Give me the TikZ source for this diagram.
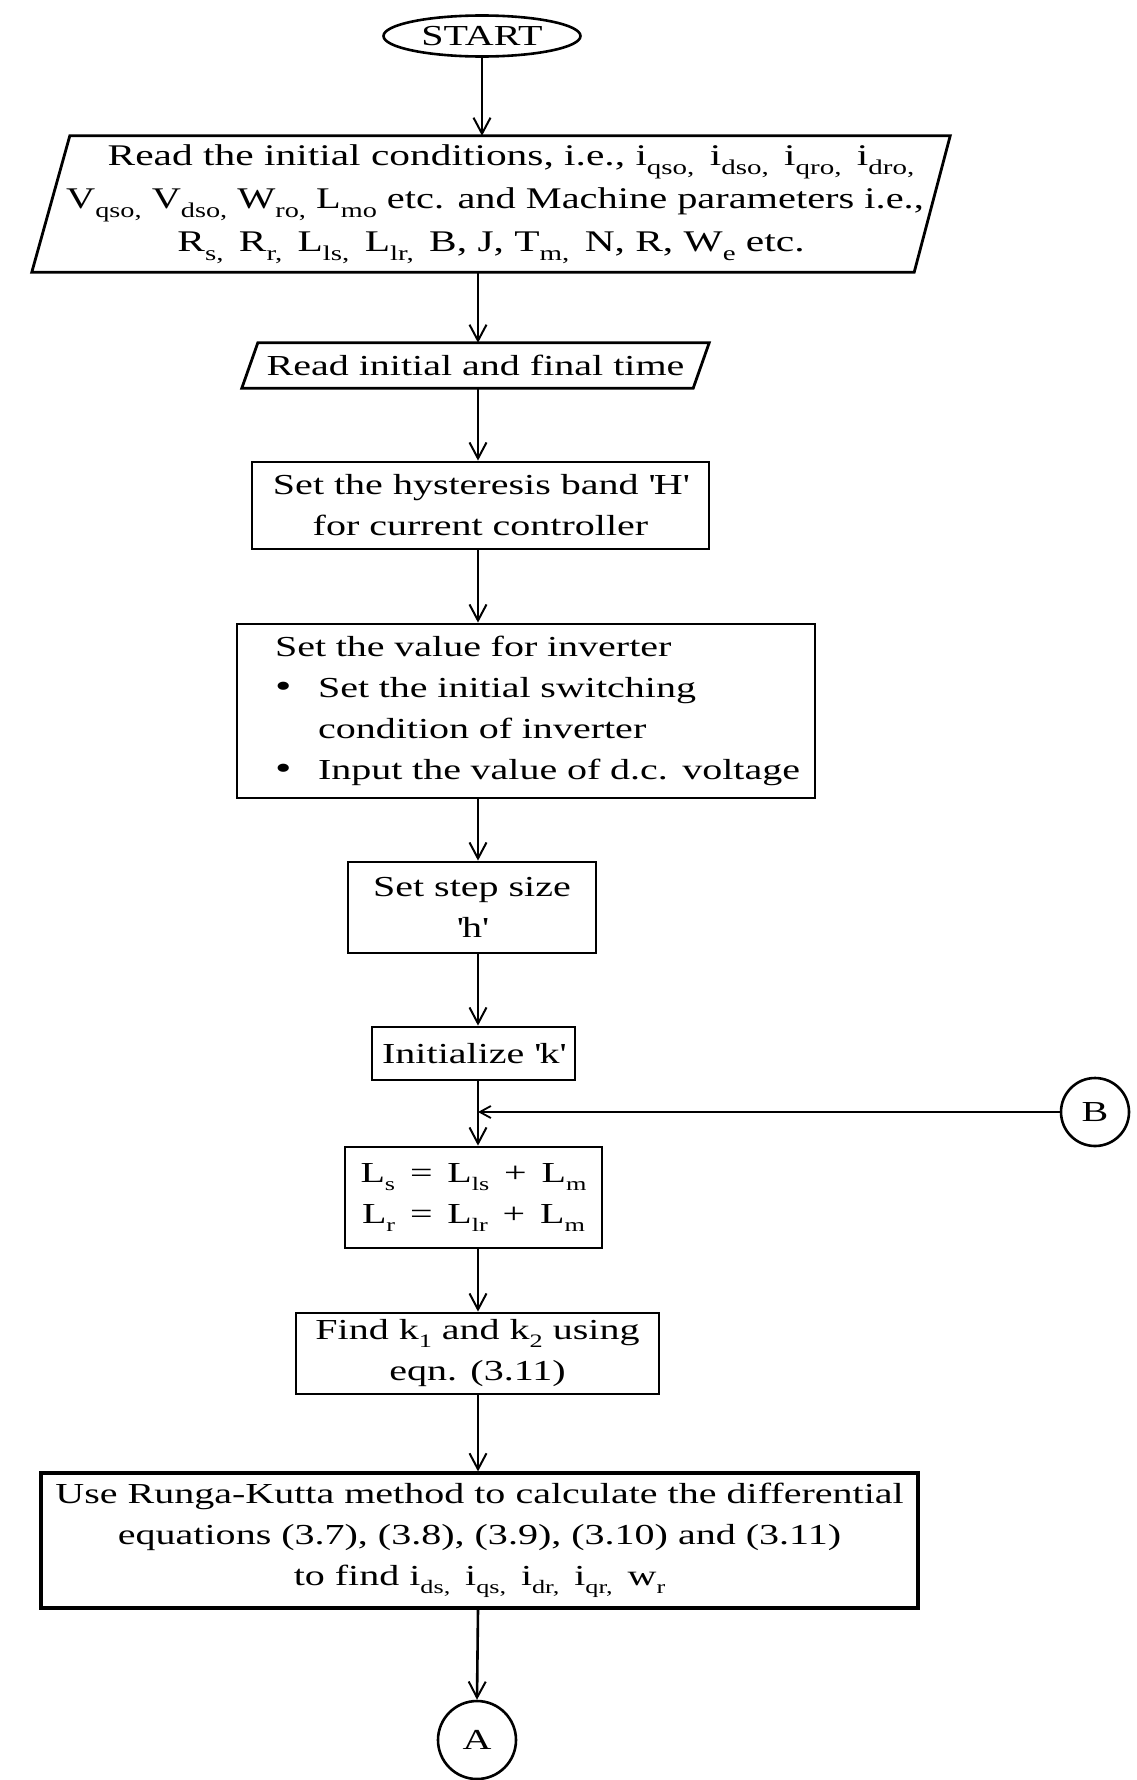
\documentclass[tikz,border=0pt]{standalone}
\usepackage{fontspec}
\usepackage{graphicx}
\setmainfont{Liberation Serif}[FakeStretch=1.38]
\usetikzlibrary{arrows.meta,shapes.geometric}
\newcommand\lo[1]{\raisebox{-8pt}{\fontsize{19}{19}\selectfont #1}}
\newcommand\loo[1]{\raisebox{-9pt}{\fontsize{21}{21}\selectfont #1}}
\newcommand\bul{\makebox[43pt][l]{\fontsize{34}{34}\selectfont\textbullet}}
\newcommand\q{\textquotesingle}
\begin{document}
\begin{tikzpicture}[x=1pt,y=-1pt,
  every node/.style={font=\fontsize{29}{41}\selectfont},
  box/.style={draw, line width=2.8pt, inner sep=0pt, align=center},
  arr/.style={line width=2.6pt, -{Straight Barb[length=16pt,width=17pt,line width=2pt]}},
  arrB/.style={line width=2.6pt, -{Straight Barb[length=11pt,width=12pt,line width=1.8pt]}},
  para/.style={line width=2.8pt, line join=miter}]
\useasboundingbox (0,0) rectangle (1136,1780);
\fill[white] (0,0) rectangle (1136,1780);

\node (start) [ellipse, draw, line width=2.6pt, minimum width=197pt, minimum height=41pt, inner sep=0pt] at (482,36) {START};

\node (p1) [inner sep=0pt, minimum width=918pt, minimum height=136pt, align=center,
  font=\fontsize{30}{43}\selectfont] at (491,204)
  {\hspace*{40pt}Read the initial conditions, i.e., i\loo{qso,}\, i\loo{dso,}\, i\loo{qro,}\, i\loo{dro,}\\
   \hspace*{8pt}\scalebox{0.975}[1]{V\loo{qso,} V\loo{dso,} W\loo{ro,} L\loo{mo} etc. and Machine parameters i.e.,}\\
   R\loo{s,}\, R\loo{r,}\, L\loo{ls,}\, L\loo{lr,}\, B, J, T\loo{m,}\, N, R, W\loo{e} etc.};
\draw[para] ([xshift=38pt]p1.north west) -- (p1.north east) -- ([xshift=-36pt]p1.south east) -- (p1.south west) -- cycle;

\node (p2) [inner sep=0pt, minimum width=467pt, minimum height=45pt] at (475.5,365.5) {Read initial and final time};
\draw[para] ([xshift=16pt]p2.north west) -- (p2.north east) -- ([xshift=-16pt]p2.south east) -- (p2.south west) -- cycle;

\node (hyst) [box, minimum width=457pt, minimum height=87pt] at (480.5,505.5)
  {Set the hysteresis band \q H\q\\for current controller};

\node (inv) [box, minimum width=578pt, minimum height=174pt, text width=502pt, inner xsep=38pt, align=left] at (526,711)
  {\mbox{Set the value for inverter}\\
   \mbox{\bul Set the initial switching}\\
   \mbox{\hspace*{43pt}condition of inverter}\\
   \mbox{\bul Input the value of d.c. voltage}};

\node (step) [box, minimum width=248pt, minimum height=91pt] at (472,907.5) {Set step size\\\q h\q};

\node (init) [box, minimum width=203pt, minimum height=53pt] at (473.5,1053.5) {Initialize \q k\q};

\node (B) [circle, draw, line width=2.6pt, minimum size=68pt, inner sep=0pt] at (1095,1112) {B};

\node (L) [box, minimum width=257pt, minimum height=101pt] at (473.5,1197.5)
  {L\lo{s} \,=\, L\lo{ls} \,+\, L\lo{m}\\ L\lo{r} \,=\, L\lo{lr} \,+\, L\lo{m}};

\node (find) [box, minimum width=363pt, minimum height=81pt] at (477.5,1353.5)
  {Find k\lo{1} and k\lo{2} using\\eqn. (3.11)};

\node (rk) [box, line width=3.2pt, minimum width=877pt, minimum height=135pt] at (479.5,1540.5)
  {Use Runga-Kutta method to calculate the differential\\
   equations (3.7), (3.8), (3.9), (3.10) and (3.11)\\
   to find i\lo{ds,}\, i\lo{qs,}\, i\lo{dr,}\, i\lo{qr,}\, w\lo{r}};

\node (A) [circle, draw, line width=2.6pt, minimum size=78pt, inner sep=0pt] at (477,1740) {A};

\coordinate (sp) at (478,0);
\coordinate (j) at (sp |- B);

\draw[arr] (start.south) -- (start.south |- p1.north);
\draw[arr] (sp |- p1.south) -- (sp |- p2.north);
\draw[arr] (sp |- p2.south) -- (sp |- hyst.north);
\draw[arr] (sp |- hyst.south) -- (sp |- inv.north);
\draw[arr] (sp |- inv.south) -- (sp |- step.north);
\draw[arr] (sp |- step.south) -- (sp |- init.north);
\draw[arr] (sp |- init.south) -- (sp |- L.north);
\draw[arrB] (B.west) -- (j);
\draw[arr] (sp |- L.south) -- (sp |- find.north);
\draw[arr] (sp |- find.south) -- (sp |- rk.north);
\draw[arr] (sp |- rk.south) -- (A.north);
\end{tikzpicture}
\end{document}
